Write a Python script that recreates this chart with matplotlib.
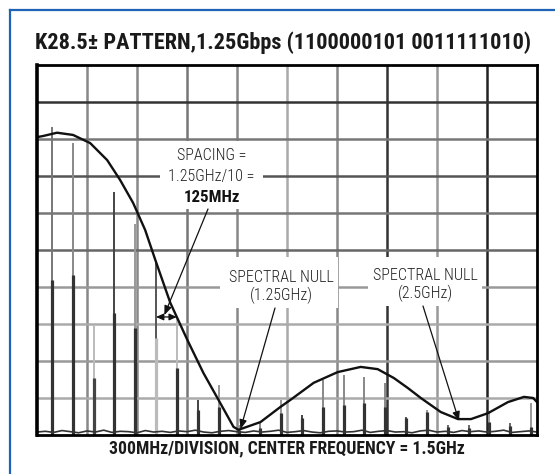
import matplotlib
matplotlib.use("Agg")
import matplotlib.pyplot as plt
import matplotlib.font_manager as fm
from matplotlib.patches import Rectangle
from matplotlib.lines import Line2D
import numpy as np

# ---------------- data ----------------
harmonic_n = list(range(1, 25))                 # harmonics of 125 MHz
spacing_mhz = 125
peak_div = [8.33, 7.90, 2.97, 6.58, 5.70, 4.68, 3.16, 0.95, 1.35, 0.27, 0.35, 0.95,
            0.54, 1.49, 1.62, 1.57, 1.41, 0.49, 0.68, 0.27, 0.27, 0.59, 0.32, 0.86]
body_div = [4.19, 4.32, 1.54, 3.30, 2.89, 2.62, 1.81, 0.68, 0.76, 0.14, 0.19, 0.59,
            0.46, 0.76, 0.81, 0.86, 0.76, 0.46, 0.62, 0.22, 0.19, 0.35, 0.24, 0.22]
peak_col = ['#777', '#888', '#bbb', '#444', '#999', '#555', '#bbb', '#444', '#999', '#999',
            '#888', '#999', '#444', '#888', '#888', '#888', '#888', '#555', '#999', '#666',
            '#666', '#999', '#666', '#999']
body_col = ['#333', '#333', '#444', '#333', '#333', '#bbb', '#333', '#333', '#333', '#333',
            '#333', '#333', '#333', '#333', '#333', '#333', '#333', '#333', '#333', '#333',
            '#333', '#333', '#333', '#333']

env_mhz = [36, 72, 156, 252, 355, 457, 535, 613, 685, 746, 836, 938, 1034, 1136, 1215,
           1245, 1377, 1497, 1557, 1696, 1840, 1978, 2080, 2177, 2261, 2339, 2459, 2562,
           2640, 2742, 2862, 2958, 3013, 3036]
env_div = [8.05, 8.08, 8.17, 8.11, 7.89, 7.43, 6.89, 6.27, 5.54, 4.73, 3.57, 2.57, 1.68,
           0.86, 0.22, 0.14, 0.35, 0.76, 0.95, 1.41, 1.70, 1.84, 1.78, 1.54, 1.27, 1.00,
           0.62, 0.43, 0.43, 0.59, 0.89, 1.03, 1.00, 0.89]

noise_mhz = list(range(36, 3037, 50))
noise_div = [0.08, 0.10, 0.07, 0.12, 0.09, 0.06, 0.11, 0.08, 0.13, 0.07, 0.10, 0.09,
             0.06, 0.12, 0.08, 0.10, 0.07, 0.11, 0.09, 0.13, 0.08, 0.06, 0.10, 0.12,
             0.09, 0.07, 0.11, 0.08, 0.10, 0.13, 0.07, 0.09, 0.12, 0.08, 0.06, 0.10,
             0.11, 0.08, 0.09, 0.13, 0.07, 0.10, 0.12, 0.08, 0.09, 0.06, 0.11, 0.13,
             0.08, 0.10, 0.07, 0.12, 0.09, 0.11, 0.08, 0.10, 0.13, 0.07, 0.09, 0.11,
             0.08]

x_min, x_max, mhz_per_div = 36, 3036, 300
title = "K28.5± PATTERN,1.25Gbps (1100000101 0011111010)"
xlabel = "300MHz/DIVISION, CENTER FREQUENCY = 1.5GHz"

# ---------------- figure ----------------
W, H = 555, 474
fig = plt.figure(figsize=(W / 100, H / 100), dpi=100)
fig.patch.set_facecolor('white')
renderer = fig.canvas.get_renderer()

# ---------------- font choice: family whose proportions match the reference ----------------
WMAP = {'ultralight': 100, 'thin': 100, 'extralight': 200, 'light': 300, 'normal': 400,
        'regular': 400, 'book': 400, 'roman': 400, 'medium': 500, 'semibold': 600,
        'demibold': 600, 'demi': 600, 'bold': 700, 'extra bold': 800, 'heavy': 800,
        'black': 900}
BASES = ['noto sans', 'dejavu sans', 'liberation sans', 'roboto', 'open sans', 'lato', 'inter']
OK_WORDS = {'', 'condensed', 'semicondensed', 'extracondensed', 'semi', 'extra', 'narrow',
            'light', 'medium', 'bold', 'black', 'thin', 'semibold', 'extrabold', 'display',
            'extralight', 'regular', 'ultra', 'ultracondensed'}


def _w(f):
    w = f.weight
    if isinstance(w, str):
        w = WMAP.get(w.lower(), 400)
    return int(w)


def _family_key(f):
    n = f.name.lower()
    for b in BASES:
        if n.startswith(b):
            rest = n[len(b):].replace('-', ' ').split()
            if all(r in OK_WORDS for r in rest):
                return (b, str(f.stretch).lower(),
                        ' '.join(r for r in rest if 'cond' in r or r in ('narrow', 'semi', 'extra', 'ultra')))
    return None


def measure(prop, s):
    w, h, d = renderer.get_text_width_height_descent(s, prop, ismath=False)
    return w, h


groups = {}
for f in fm.fontManager.ttflist:
    if f.style != 'normal':
        continue
    k = _family_key(f)
    if k is None:
        continue
    groups.setdefault(k, []).append(f)

TARGET = 498 / 16.0
best = None
for k, fl in groups.items():
    bolds = [f for f in fl if _w(f) >= 600]
    regs = [f for f in fl if 250 <= _w(f) <= 500]
    if not bolds or not regs:
        continue
    fb = sorted(bolds, key=lambda f: abs(_w(f) - 700))[0]
    fr = sorted(regs, key=lambda f: abs(_w(f) - 330))[0]
    try:
        pb = fm.FontProperties(fname=fb.fname, size=20)
        tw, _ = measure(pb, title)
        _, ch = measure(pb, "H")
        ratio = tw / ch
    except Exception:
        continue
    score = abs(ratio - TARGET)
    if best is None or score < best[0]:
        best = (score, fr.fname, fb.fname)

if best is not None:
    FP_REG = fm.FontProperties(fname=best[1])
    FP_BOLD = fm.FontProperties(fname=best[2])
else:
    FP_REG = fm.FontProperties(family=['Roboto', 'DejaVu Sans'], weight='light')
    FP_BOLD = fm.FontProperties(family=['Roboto', 'DejaVu Sans'], weight='bold')


def fit_width(t, target_px):
    w = t.get_window_extent(renderer).width
    if w > 0:
        t.set_fontsize(t.get_fontsize() * target_px / w)
    return t.get_fontsize()


def fx(px):
    return px / W


def fy(py):
    return 1 - py / H


ax = fig.add_axes([fx(37), fy(435), (537 - 37) / W, (435 - 65) / H])
ax.set_xlim(x_min, x_max)
ax.set_ylim(0, 10)
ax.set_xticks(np.arange(x_min, x_max + 1, mhz_per_div))
ax.set_yticks(np.arange(0, 11, 1))
ax.tick_params(length=0, labelbottom=False, labelleft=False)

# grid lines with individual shades
vcols = ['#888', '#888', '#777', '#888', '#aaa', '#888', '#333', '#999', '#222']
hcols = ['#aaa', '#999', '#aaa', '#999', '#666', '#777', '#555', '#777', '#333']  # bottom->top
for i, xv in enumerate(ax.get_xticks()[1:-1]):
    ax.axvline(xv, color=vcols[i], lw=1.8, zorder=1)
for i, yv in enumerate(ax.get_yticks()[1:-1]):
    ax.axhline(yv, color=hcols[i], lw=1.8, zorder=1)

for s in ax.spines.values():
    s.set_linewidth(2.0)
    s.set_color('black')
    s.set_zorder(10)
ax.spines['left'].set_linewidth(2.6)

# spectral lines
freqs = [n * spacing_mhz for n in harmonic_n]
ax.vlines(freqs, 0, peak_div, colors=peak_col, lw=1.4, zorder=2)
ax.vlines(freqs, 0, body_div, colors=body_col, lw=2.3, zorder=2)

# noise floor
ax.plot(noise_mhz, noise_div, color='#333', lw=1.2, zorder=2)

# envelope
ax.plot(env_mhz, env_div, color='#111', lw=1.7, zorder=5, solid_joinstyle='round')


# ---------------- annotations ----------------
def axf(px, py):
    return ((px - 37) / 500, (435 - py) / 370)


def box(x0, y0, x1, y1):
    (ax0, ay1) = axf(x0, y0)
    (ax1, ay0) = axf(x1, y1)
    ax.add_patch(Rectangle((ax0, ay0), ax1 - ax0, ay1 - ay0, transform=ax.transAxes,
                           facecolor='white', edgecolor='none', zorder=3))


box(160, 141, 263, 209)
box(220, 257, 338, 308)
box(368, 257, 482, 306)

kw = dict(transform=ax.transAxes, ha='center', va='center', color='#222', zorder=4)
t_sn1 = ax.text(*axf(281, 277), "SPECTRAL NULL", fontproperties=FP_REG, fontsize=12, **kw)
afs = fit_width(t_sn1, 104)
ax.text(*axf(281, 295), "(1.25GHz)", fontproperties=FP_REG, fontsize=afs, **kw)
ax.text(*axf(425.5, 275), "SPECTRAL NULL", fontproperties=FP_REG, fontsize=afs, **kw)
ax.text(*axf(425.5, 293), "(2.5GHz)", fontproperties=FP_REG, fontsize=afs, **kw)
ax.text(*axf(211.5, 155), "SPACING =", fontproperties=FP_REG, fontsize=afs, **kw)
ax.text(*axf(211.5, 177), "1.25GHz/10 =", fontproperties=FP_REG, fontsize=afs, **kw)
t_b = ax.text(*axf(211.5, 198), "125MHz", fontproperties=FP_BOLD, fontsize=afs, **kw)
t_b.set_color('#111')
fit_width(t_b, 56)

ap = dict(arrowstyle='-|>,head_length=0.55,head_width=0.22', color='#111', lw=0.9,
          shrinkA=0, shrinkB=0)
ax.annotate("", xy=(800, 3.24), xycoords='data', xytext=axf(208, 209),
            textcoords='axes fraction', arrowprops=ap, zorder=6)
ax.annotate("", xy=(1257, 0.16), xycoords='data', xytext=axf(275, 308),
            textcoords='axes fraction', arrowprops=ap, zorder=6)
ax.annotate("", xy=(2568, 0.38), xycoords='data', xytext=axf(423, 306),
            textcoords='axes fraction', arrowprops=ap, zorder=6)
ap2 = dict(arrowstyle='<|-|>,head_length=0.45,head_width=0.2', color='#111', lw=0.9,
           shrinkA=0, shrinkB=0)
ax.annotate("", xy=(6 * spacing_mhz, 3.19), xytext=(7 * spacing_mhz, 3.19),
            arrowprops=ap2, zorder=6)

# titles
t_title = fig.text(fx(35), fy(43), title, ha='left', va='center', fontproperties=FP_BOLD,
                   fontsize=15, color='#1a1a1a')
fit_width(t_title, 498)
t_xl = fig.text(fx(287), fy(448), xlabel, ha='center', va='center', fontproperties=FP_BOLD,
                fontsize=12, color='#1a1a1a')
fit_width(t_xl, 354)

# blue border (left and top)
blue = '#1e63b6'
fig.add_artist(Line2D([fx(10), fx(10)], [0, fy(10)], color=blue, lw=1.6))
fig.add_artist(Line2D([fx(10), 1], [fy(10), fy(10)], color=blue, lw=1.6))

fig.savefig("out.png", dpi=100, facecolor='white')
